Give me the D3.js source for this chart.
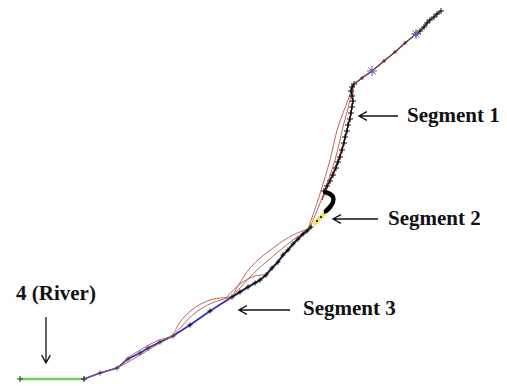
<!DOCTYPE html>
<html>
<head>
<meta charset="utf-8">
<script src="https://cdn.jsdelivr.net/npm/d3@7"></script>
<style>
  html, body { margin: 0; padding: 0; background: #fff; }
  svg { display: block; }
  .label { font-family: "Liberation Serif", "Times New Roman", serif; font-weight: bold; font-size: 21px; fill: #111; }
</style>
</head>
<body>
<svg id="chart" width="507" height="388"></svg>
<script>
// Longitudinal profile: distance along the valley (m) vs elevation above river (m)

// River reach (segment 4)
const river = [[0, 0], [320, 0]];

// Surveyed profile points, from river up to the crest
const lowerProfile = [
  [320, 0], [400, 30], [485, 55], [540, 100], [600, 130], [640, 155], [700, 185], [765, 215]
];
const segment3 = [
  [765, 215], [850, 270], [950, 340], [1060, 410], [1100, 435], [1140, 460], [1175, 480],
  [1200, 495], [1230, 520], [1260, 555], [1290, 585], [1315, 620], [1340, 645], [1365, 675],
  [1390, 700], [1415, 725], [1435, 740], [1455, 760]
];
const segment2Yellow = [[1475, 780], [1495, 800], [1515, 820], [1530, 840]];
const segment2Bulge = [[1530, 840], [1550, 860], [1565, 885], [1565, 910], [1550, 925], [1525, 935]];
const segment1 = [
  [1520, 940], [1535, 965], [1550, 990], [1565, 1020], [1580, 1055], [1590, 1085], [1600, 1110],
  [1610, 1145], [1620, 1180], [1625, 1210], [1635, 1240], [1640, 1270], [1650, 1300], [1655, 1330],
  [1660, 1360], [1665, 1390], [1660, 1415], [1655, 1440], [1660, 1460], [1670, 1475]
];
const upperSlope = [[1670, 1475], [1710, 1505], [1760, 1540], [1820, 1590], [1875, 1635], [1925, 1680], [1980, 1725]];
const crest = [
  [1980, 1725], [2000, 1740], [2020, 1760], [2035, 1780], [2050, 1795], [2070, 1810], [2085, 1825], [2105, 1840]
];
const controlPoints = [[1760, 1540], [1980, 1725]];

// Modelled slope surfaces
const modelCurves = [
  [[320, 0], [400, 30], [485, 55]],
  [[485, 55], [540, 105], [600, 145], [685, 190], [765, 215]],
  [[485, 55], [550, 90], [625, 135], [700, 180], [765, 215]],
  [[765, 215], [800, 285], [865, 350], [950, 395], [1060, 410]],
  [[765, 215], [810, 265], [875, 330], [960, 380], [1060, 410]],
  [[1060, 410], [1150, 555], [1265, 655], [1365, 720], [1440, 750]],
  [[1060, 410], [1175, 535], [1290, 635], [1385, 710], [1445, 750]],
  [[1035, 410], [1100, 475], [1175, 515], [1230, 520]],
  [[1435, 735], [1490, 895], [1550, 1095], [1590, 1260], [1640, 1395], [1665, 1470]],
  [[1445, 745], [1510, 905], [1575, 1095], [1615, 1260], [1650, 1395], [1665, 1470]],
  [[1670, 1475], [1760, 1540], [1875, 1635], [1980, 1725]]
];
const fittedSegment1 = [[1510, 895], [1550, 995], [1600, 1120], [1635, 1245], [1660, 1370], [1665, 1470]];

// Annotation labels
const labels = [
  { text: "Segment 1", x: 407, y: 122, arrow: [[398, 116], [359, 116]] },
  { text: "Segment 2", x: 388, y: 225, arrow: [[378, 219], [333, 219]] },
  { text: "Segment 3", x: 303, y: 315, arrow: [[290, 310], [239, 310]] },
  { text: "4 (River)", x: 16, y: 300, arrow: [[46, 317], [46, 363]] }
];

const svg = d3.select("#chart");
const x = d3.scaleLinear().domain([0, 2100]).range([20, 440]);
const y = d3.scaleLinear().domain([0, 1850]).range([379, 9]);

const line = d3.line().x(d => x(d[0])).y(d => y(d[1]));
const smooth = d3.line().x(d => x(d[0])).y(d => y(d[1])).curve(d3.curveCatmullRom);

function crosses(data, color, r, width) {
  svg.append("g").selectAll("path").data(data).join("path")
    .attr("d", d => {
      const cx = x(d[0]), cy = y(d[1]);
      return `M${cx - r},${cy}H${cx + r}M${cx},${cy - r}V${cy + r}`;
    })
    .attr("stroke", color).attr("stroke-width", width).attr("fill", "none");
}

// river
svg.append("path").attr("d", line(river))
  .attr("stroke", "#74d24e").attr("stroke-width", 2.6).attr("fill", "none");
crosses(river, "#333", 3, 1);

// blue profile line in the lower part
svg.append("path").attr("d", line(lowerProfile.concat(segment3.slice(1))))
  .attr("stroke", "#2a2ac8").attr("stroke-width", 1.6).attr("fill", "none");

// modelled curves
modelCurves.forEach(c => {
  svg.append("path").attr("d", smooth(c))
    .attr("stroke", "#b0564c").attr("stroke-width", 1).attr("fill", "none").attr("opacity", 0.9);
});
svg.append("path").attr("d", smooth(fittedSegment1))
  .attr("stroke", "#c62a2a").attr("stroke-width", 1.2).attr("fill", "none");

// measured profile: black crosses
crosses(lowerProfile, "#443355", 2.5, 1);
svg.append("path").attr("d", line(segment3.slice(3)))
  .attr("stroke", "#111").attr("stroke-width", 2).attr("fill", "none").attr("opacity", 0.75);
crosses(segment3.slice(1), "#111", 2.5, 1.1);

svg.append("path").attr("d", line(segment2Yellow))
  .attr("stroke", "#222").attr("stroke-width", 2).attr("fill", "none");
crosses(segment2Yellow, "#e8e860", 3, 2);

svg.append("path").attr("d", smooth(segment2Bulge))
  .attr("stroke", "#000").attr("stroke-width", 4.5).attr("fill", "none").attr("stroke-linecap", "round");

svg.append("path").attr("d", line(segment1))
  .attr("stroke", "#111").attr("stroke-width", 1.3).attr("fill", "none");
crosses(segment1, "#111", 3, 1);

svg.append("path").attr("d", line(upperSlope))
  .attr("stroke", "#6b2a2a").attr("stroke-width", 1.3).attr("fill", "none");
crosses(upperSlope.slice(1, -1), "#6b2a2a", 2, 1);

svg.append("path").attr("d", line(crest))
  .attr("stroke", "#111").attr("stroke-width", 1.3).attr("fill", "none");
crosses(crest, "#111", 3, 1);

// control points (star crosses)
svg.append("g").selectAll("path").data(controlPoints).join("path")
  .attr("d", d => {
    const cx = x(d[0]), cy = y(d[1]), r = 5;
    return `M${cx - r},${cy}H${cx + r}M${cx},${cy - r}V${cy + r}M${cx - 3.5},${cy - 3.5}L${cx + 3.5},${cy + 3.5}M${cx - 3.5},${cy + 3.5}L${cx + 3.5},${cy - 3.5}`;
  })
  .attr("stroke", "#6060b0").attr("stroke-width", 1).attr("fill", "none");

// labels and arrows
labels.forEach(l => {
  svg.append("text").attr("class", "label").attr("x", l.x).attr("y", l.y).text(l.text);
  const [[x0, y0], [x1, y1]] = l.arrow;
  const ang = Math.atan2(y1 - y0, x1 - x0);
  const h = 9, w = 0.5;
  const p1 = [x1 - h * Math.cos(ang - w), y1 - h * Math.sin(ang - w)];
  const p2 = [x1 - h * Math.cos(ang + w), y1 - h * Math.sin(ang + w)];
  svg.append("path")
    .attr("d", `M${x0},${y0}L${x1},${y1}M${p1[0]},${p1[1]}L${x1},${y1}L${p2[0]},${p2[1]}`)
    .attr("stroke", "#111").attr("stroke-width", 1.3).attr("fill", "none");
});
</script>
</body>
</html>
